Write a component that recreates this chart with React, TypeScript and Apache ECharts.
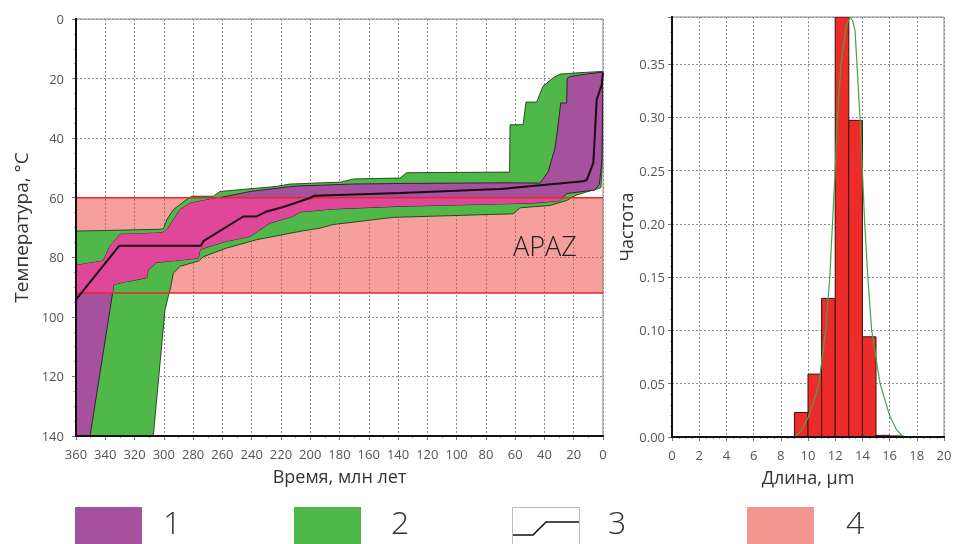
import React, { useEffect, useRef } from 'react';
import * as echarts from 'echarts';

// ---------- Left chart: thermal history (time, Ma ; temperature, °C) ----------
const timeRange = [0, 360];
const tempRange = [0, 140];
const apazRange = [60, 92];

// acceptable-fit envelope (green): upper (cool) boundary, t from 360 to 0
const greenTop: number[][] = [
  [360, 71.2], [330, 70.9], [303, 70.6], [300.3, 70.4], [298, 67.4], [293.5, 64.0],
  [284.4, 60.6], [281, 59.5], [266.2, 59.5], [261.6, 57.9], [248, 57.3], [222.9, 56.2],
  [213.8, 55.4], [207, 55.3], [193, 55.0], [179.6, 54.8], [170.5, 53.7], [138.7, 53.4],
  [134.1, 51.6], [65.8, 51.4], [63.8, 51.4], [63.5, 35.5], [54.6, 35.5], [52.6, 27.9],
  [45.3, 27.9], [41, 22.6], [34.2, 19.8], [29.4, 18.5], [15, 18.0], [0.3, 17.6],
];
// acceptable-fit envelope (green): lower (hot) boundary, t from 0 to 360
const greenBottom: number[][] = [
  [0.3, 30], [0.6, 50], [1.4, 56.6], [5.5, 57.3], [10.9, 58.0], [19.1, 59.3], [24.6, 60.9],
  [36.2, 62.6], [56.7, 63.4], [61.3, 65.4], [143.2, 66.6], [184.2, 69.0], [193.3, 70.2],
  [207, 71.3], [236.6, 74.1], [257, 76.9], [273, 79.8], [276, 81.2], [288.8, 83.0],
  [293.5, 85.3], [295.7, 90.9], [296.9, 93.1], [299.2, 97.6], [307.2, 140], [360, 140],
];
// good-fit envelope (purple): upper boundary, t from 360 to 0
const purpleTop: number[][] = [
  [360, 82.7], [341.4, 81.2], [337, 76.5], [330, 72.3], [301, 71.8], [297.5, 70.5],
  [289, 64.0], [282, 61.8], [264, 60.1], [257, 59.5], [241, 57.9], [216, 56.4], [207, 56.0],
  [193, 55.8], [170, 55.4], [134, 55.2], [66, 55.0], [43, 55.1], [37.4, 51.2], [32.8, 43.3],
  [31.2, 37.7], [29.8, 32.1], [28.9, 28.2], [24.8, 28.2], [24.5, 20.0], [22.5, 19.3],
  [10, 18.4], [0.9, 17.9],
];
// good-fit envelope (purple): lower boundary, t from 0 to 360
const purpleBottom: number[][] = [
  [0.2, 18.5], [0.3, 30], [0.8, 48], [2.5, 55.5], [5.5, 57.4], [24.8, 58.6], [29.4, 61.0],
  [47.6, 61.8], [138.7, 62.9], [184.2, 63.8], [207, 64.8], [212, 66.3], [227.5, 68.5],
  [241.1, 73.0], [257, 74.6], [268.4, 76.3], [275.2, 77.4], [276.4, 80.3], [295.8, 81.3],
  [304.9, 81.7], [310.6, 84.2], [311.7, 86.9], [329.9, 88.6], [334.5, 89.2], [335, 92],
  [350.4, 140], [360, 140],
];
// best-fit thermal path
const bestPath: number[][] = [
  [360, 94.2], [330.4, 76.1], [274.6, 76.1], [273, 74.6], [245.7, 66.3], [236.6, 66.3],
  [229.7, 64.6], [218.4, 63.1], [200.2, 60.1], [197, 59.3], [138.7, 58.4], [70.4, 57.1],
  [13.4, 54.5], [11.1, 54.0], [6.6, 48.3], [4.3, 27.1], [0.9, 22.1], [0, 18],
];

// ---------- Right chart: track length histogram ----------
const binStarts = [9, 10, 11, 12, 13, 14, 15, 16];
const binFreq = [0.023, 0.059, 0.13, 0.394, 0.297, 0.094, 0.0015, 0.001];
const fitX = [0, 9.0, 9.5, 10.0, 10.4, 10.8, 11.3, 11.6, 11.8, 12.0, 12.16, 12.43, 12.8, 13.09, 13.3, 13.46, 13.6, 13.82, 14.0, 14.17, 14.4, 14.68, 15.3, 16.0, 16.5, 17.0, 20];
const fitY = [0, 0, 0.006, 0.018, 0.032, 0.05, 0.10, 0.15, 0.20, 0.25, 0.30, 0.35, 0.385, 0.394, 0.39, 0.381, 0.35, 0.30, 0.25, 0.20, 0.15, 0.10, 0.05, 0.02, 0.007, 0, 0];

const legendLabels = ['1', '2', '3', '4'];

const FONT = "'Open Sans', 'DejaVu Sans', sans-serif";
const COL_GREEN = '#4fb848';
const COL_PURPLE = '#a5519d';
const COL_MAGENTA = '#e0469a';
const COL_RED = '#e52a2a';

// clip polygon to lo <= T <= hi (Sutherland–Hodgman on the temperature coordinate)
function clipPoly(poly: number[][], lo: number, hi: number): number[][] {
  const clip = (pts: number[][], inside: (p: number[]) => boolean, lim: number) => {
    const out: number[][] = [];
    for (let i = 0; i < pts.length; i++) {
      const a = pts[i];
      const b = pts[(i + 1) % pts.length];
      const ia = inside(a), ib = inside(b);
      if (ia) out.push(a);
      if (ia !== ib) {
        const f = (lim - a[1]) / (b[1] - a[1]);
        out.push([a[0] + f * (b[0] - a[0]), lim]);
      }
    }
    return out;
  };
  let r = clip(poly, (p) => p[1] >= lo, lo);
  r = clip(r, (p) => p[1] <= hi, hi);
  return r;
}

function polygonSeries(points: number[][], fill: string, stroke: string, z: number) {
  return {
    type: 'custom',
    xAxisIndex: 0,
    yAxisIndex: 0,
    z,
    clip: true,
    silent: true,
    data: points,
    encode: { x: 0, y: 1 },
    renderItem: (params: any, api: any) => {
      if (params.dataIndex !== 0) return null;
      return {
        type: 'polygon',
        shape: { points: points.map((p) => api.coord(p)) },
        style: { fill, stroke, lineWidth: stroke === 'none' ? 0 : 1 },
      };
    },
  };
}

const greenPoly = [...greenTop, ...greenBottom];
const purplePoly = [...purpleTop, ...purpleBottom];
const magentaPoly = clipPoly(purplePoly, apazRange[0], apazRange[1]);

const dotted = { show: true, lineStyle: { color: '#8f8f8f', width: 1, type: [2, 2] as any } };

export default function App() {
  const ref = useRef<HTMLDivElement>(null);
  useEffect(() => {
    if (!ref.current) return;
    const chart = echarts.init(ref.current, null, { renderer: 'svg' });

    const axisLabel = { color: '#555', fontSize: 13, fontFamily: FONT };
    const overlayAxis = {
      type: 'value',
      axisLine: { show: true, onZero: false, lineStyle: { color: '#111', width: 2 } },
      axisTick: { show: false },
      axisLabel: { show: false },
      splitLine: { show: false },
      z: 10,
    };
    const legendText = (x: number, s: string) => ({
      type: 'text', left: x, top: 505, z: 100,
      style: { text: s, fontSize: 32, lineHeight: 32, fontWeight: 300, fontFamily: FONT, fill: '#333' },
    });

    const option: any = {
      animation: false,
      textStyle: { fontFamily: FONT },
      grid: [
        { left: 76, top: 19, width: 527, height: 417, show: true, borderColor: '#8a8a8a', borderWidth: 1, backgroundColor: 'transparent', outerBoundsMode: 'none' },
        { left: 672, top: 17, width: 272, height: 420, show: true, borderColor: '#8a8a8a', borderWidth: 1, backgroundColor: 'transparent', outerBoundsMode: 'none' },
      ],
      xAxis: [
        {
          gridIndex: 0, type: 'value', inverse: true, min: timeRange[0], max: timeRange[1], interval: 20,
          name: 'Время, млн лет', nameLocation: 'middle', nameGap: 31,
          nameTextStyle: { fontSize: 18, color: '#333', fontFamily: FONT },
          axisLine: { show: true, onZero: false, lineStyle: { color: '#111', width: 2 } },
          axisTick: { show: true, length: 4, lineStyle: { color: '#777' } },
          minorTick: { show: true, splitNumber: 2, length: 2, lineStyle: { color: '#999' } },
          axisLabel: { ...axisLabel, margin: 11 },
          splitLine: dotted,
        },
        { ...overlayAxis, gridIndex: 0, inverse: true, min: timeRange[0], max: timeRange[1], position: 'bottom' },
        {
          gridIndex: 1, type: 'value', min: 0, max: 20, interval: 2,
          name: 'Длина, µm', nameLocation: 'middle', nameGap: 31,
          nameTextStyle: { fontSize: 18, color: '#333', fontFamily: FONT },
          axisLine: { show: true, onZero: false, lineStyle: { color: '#111', width: 2 } },
          axisTick: { show: true, length: 4, lineStyle: { color: '#777' } },
          minorTick: { show: true, splitNumber: 4, length: 2, lineStyle: { color: '#999' } },
          axisLabel: { ...axisLabel, margin: 11 },
          splitLine: dotted,
        },
        { ...overlayAxis, gridIndex: 1, min: 0, max: 20, position: 'bottom' },
      ],
      yAxis: [
        {
          gridIndex: 0, type: 'value', inverse: true, min: tempRange[0], max: tempRange[1], interval: 20,
          name: 'Температура, °C', nameLocation: 'middle', nameGap: 46,
          nameTextStyle: { fontSize: 19, color: '#333', fontFamily: FONT },
          axisLine: { show: true, onZero: false, lineStyle: { color: '#111', width: 2 } },
          axisTick: { show: true, length: 4, lineStyle: { color: '#777' } },
          minorTick: { show: true, splitNumber: 4, length: 2, lineStyle: { color: '#999' } },
          axisLabel: { ...axisLabel, margin: 12 },
          splitLine: dotted,
        },
        { ...overlayAxis, gridIndex: 0, inverse: true, min: tempRange[0], max: tempRange[1], position: 'left' },
        {
          gridIndex: 1, type: 'value', min: 0, max: 0.394, interval: 0.05,
          name: 'Частота', nameLocation: 'middle', nameGap: 36,
          nameTextStyle: { fontSize: 18, color: '#333', fontFamily: FONT },
          axisLine: { show: true, onZero: false, lineStyle: { color: '#111', width: 2 } },
          axisTick: { show: true, length: 4, lineStyle: { color: '#777' } },
          minorTick: { show: true, splitNumber: 5, length: 2, lineStyle: { color: '#999' } },
          axisLabel: { ...axisLabel, margin: 7, showMaxLabel: false, formatter: (v: number) => (v > 0.36 ? '' : v.toFixed(2)) },
          splitLine: dotted,
        },
        { ...overlayAxis, gridIndex: 1, min: 0, max: 0.394, position: 'left' },
      ],
      series: [
        {
          type: 'custom', xAxisIndex: 0, yAxisIndex: 0, z: 1, silent: true, clip: true,
          data: [[timeRange[0], apazRange[0], timeRange[1], apazRange[1]]],
          renderItem: (params: any, api: any) => {
            const a = api.coord([api.value(0), api.value(1)]);
            const b = api.coord([api.value(2), api.value(3)]);
            return {
              type: 'rect',
              shape: { x: Math.min(a[0], b[0]), y: Math.min(a[1], b[1]), width: Math.abs(b[0] - a[0]), height: Math.abs(b[1] - a[1]) },
              style: { fill: 'rgba(235,66,60,0.5)' },
            };
          },
        },
        polygonSeries(greenPoly, COL_GREEN, 'rgba(25,50,20,0.85)', 2),
        polygonSeries(purplePoly, COL_PURPLE, 'rgba(45,15,40,0.85)', 3),
        polygonSeries(magentaPoly, COL_MAGENTA, 'none', 4),
        {
          type: 'line', xAxisIndex: 0, yAxisIndex: 0, z: 5, symbol: 'none', silent: true,
          data: [[timeRange[1], apazRange[0]], [timeRange[0], apazRange[0]]],
          lineStyle: { color: COL_RED, width: 1.5 },
        },
        {
          type: 'line', xAxisIndex: 0, yAxisIndex: 0, z: 5, symbol: 'none', silent: true,
          data: [[timeRange[1], apazRange[1]], [timeRange[0], apazRange[1]]],
          lineStyle: { color: COL_RED, width: 1.5 },
        },
        {
          type: 'line', xAxisIndex: 0, yAxisIndex: 0, z: 6, symbol: 'none', silent: true,
          data: bestPath,
          lineStyle: { color: '#1c0a12', width: 2 },
        },
        {
          type: 'custom', xAxisIndex: 2, yAxisIndex: 2, z: 3, silent: true, clip: true,
          data: binStarts.map((b, i) => [b, b + 1, binFreq[i]]),
          encode: { x: [0, 1], y: 2 },
          renderItem: (params: any, api: any) => {
            const a = api.coord([api.value(0), 0]);
            const b = api.coord([api.value(1), api.value(2)]);
            return {
              type: 'rect',
              shape: { x: a[0], y: b[1], width: b[0] - a[0], height: a[1] - b[1] },
              style: { fill: '#ee2b2b', stroke: '#3a1010', lineWidth: 1 },
            };
          },
        },
        {
          type: 'line', xAxisIndex: 2, yAxisIndex: 2, z: 4, symbol: 'none', silent: true,
          data: fitX.map((x, i) => [x, fitY[i]]),
          lineStyle: { color: '#3fa845', width: 1.2 },
        },
      ],
      graphic: [
        { type: 'text', left: 513, top: 232, z: 100, style: { text: 'APAZ', fontSize: 27, fontWeight: 300, fontFamily: FONT, fill: '#222' } },
        { type: 'rect', left: 75, top: 507, z: 100, shape: { width: 67, height: 45 }, style: { fill: COL_PURPLE } },
        legendText(163, legendLabels[0]),
        { type: 'rect', left: 294, top: 507, z: 100, shape: { width: 67, height: 45 }, style: { fill: COL_GREEN } },
        legendText(391, legendLabels[1]),
        { type: 'rect', left: 512, top: 507, z: 100, shape: { width: 67, height: 45 }, style: { fill: '#fff', stroke: '#bbb', lineWidth: 1 } },
        { type: 'polyline', z: 101, shape: { points: [[513, 535], [533, 535], [546, 522], [579, 522]] }, style: { stroke: '#111', lineWidth: 1.5, fill: 'none' } },
        legendText(608, legendLabels[2]),
        { type: 'rect', left: 747, top: 507, z: 100, shape: { width: 67, height: 45 }, style: { fill: '#f4948f' } },
        legendText(846, legendLabels[3]),
      ],
    };
    chart.setOption(option);
    return () => chart.dispose();
  }, []);
  return <div ref={ref} style={{ position: 'fixed', left: 0, top: 0, width: 954, height: 544 }} />;
}
